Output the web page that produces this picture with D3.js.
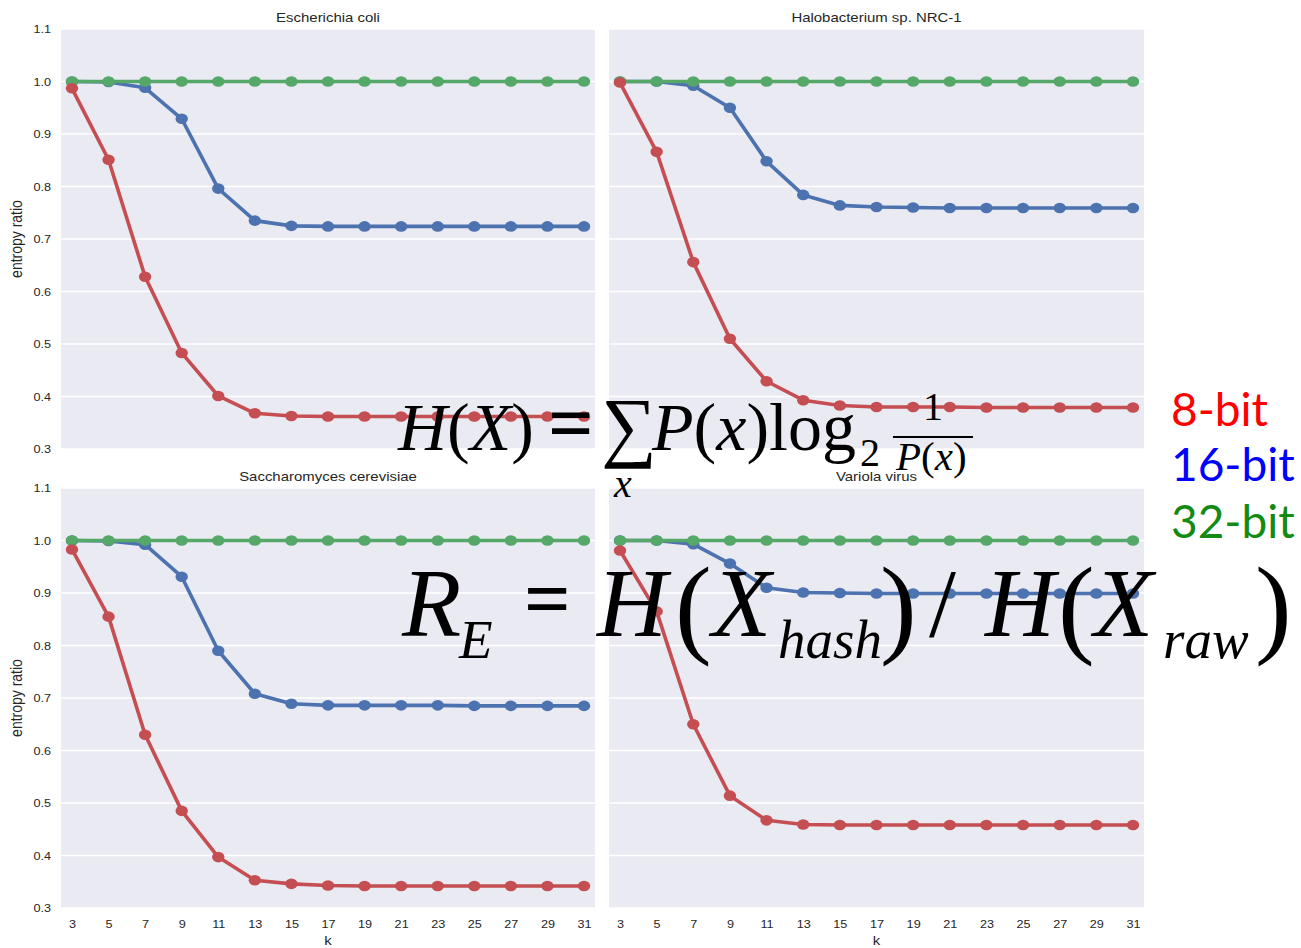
<!DOCTYPE html>
<html><head><meta charset="utf-8">
<script src="https://cdn.jsdelivr.net/npm/d3@7"></script>
<style>body{margin:0;background:#fff}</style>
</head><body>
<svg id="chart" width="1301" height="948"></svg>
<script>
// ---------- data ----------
const ks = [3,5,7,9,11,13,15,17,19,21,23,25,27,29,31];
const yTicks = [0.3,0.4,0.5,0.6,0.7,0.8,0.9,1.0,1.1];
const titles = ["Escherichia coli","Halobacterium sp. NRC-1","Saccharomyces cerevisiae","Variola virus"];
const seriesNames = ["16-bit","32-bit","8-bit"]; // drawing order
const legendNames = ["8-bit","16-bit","32-bit"];

const ecoli8  = [0.987,0.851,0.628,0.483,0.401,0.368,0.363,0.362,0.362,0.362,0.362,0.362,0.362,0.362,0.362];
const ecoli16 = [1.000,0.999,0.988,0.929,0.796,0.735,0.725,0.724,0.724,0.724,0.724,0.724,0.724,0.724,0.724];
const ecoli32 = [1,1,1,1,1,1,1,1,1,1,1,1,1,1,1];

const halo8  = [0.998,0.866,0.656,0.510,0.429,0.393,0.383,0.380,0.380,0.380,0.379,0.379,0.379,0.379,0.379];
const halo16 = [1.000,1.000,0.992,0.950,0.848,0.784,0.764,0.761,0.760,0.759,0.759,0.759,0.759,0.759,0.759];
const halo32 = [1,1,1,1,1,1,1,1,1,1,1,1,1,1,1];

const sacc8  = [0.983,0.855,0.630,0.485,0.397,0.353,0.346,0.343,0.342,0.342,0.342,0.342,0.342,0.342,0.342];
const sacc16 = [1.000,0.999,0.992,0.931,0.790,0.708,0.689,0.686,0.686,0.686,0.686,0.685,0.685,0.685,0.685];
const sacc32 = [1,1,1,1,1,1,1,1,1,1,1,1,1,1,1];

const vari8  = [0.981,0.865,0.650,0.514,0.467,0.459,0.458,0.458,0.458,0.458,0.458,0.458,0.458,0.458,0.458];
const vari16 = [1.000,1.000,0.993,0.956,0.910,0.901,0.900,0.899,0.899,0.899,0.899,0.899,0.899,0.899,0.899];
const vari32 = [1,1,1,1,1,1,1,1,1,1,1,1,1,1,1];

// ---------- styling / layout ----------
const lineColors = {"8-bit":"#C44E52","16-bit":"#4C72B0","32-bit":"#55A868"};
const legendColors = {"8-bit":"#FF0000","16-bit":"#0000FF","32-bit":"#138A13"};
const SX = 1.15; // horizontal stretch of the original picture

const panelSeries = [
  {"8-bit":ecoli8,"16-bit":ecoli16,"32-bit":ecoli32},
  {"8-bit":halo8,"16-bit":halo16,"32-bit":halo32},
  {"8-bit":sacc8,"16-bit":sacc16,"32-bit":sacc32},
  {"8-bit":vari8,"16-bit":vari16,"32-bit":vari32}
];
const cols = [[61,595],[609,1144]];
const rows = [[29,449],[488,908]];

const svg = d3.select("#chart");
const sans = "'Liberation Sans', Arial, sans-serif";

panelSeries.forEach((series, i) => {
  const c = i % 2, r = Math.floor(i / 2);
  const [x0, x1] = cols[c], [y0, y1] = rows[r];
  const x = d3.scalePoint().domain(ks).range([x0, x1]).padding(0.3);
  const y = d3.scaleLinear().domain([0.3, 1.1]).range([y1, y0]);
  const g = svg.append("g");

  g.append("rect").attr("x", x0).attr("y", y0).attr("width", x1 - x0).attr("height", y1 - y0).attr("fill", "#EAEAF2");
  g.selectAll("line.grid").data(yTicks).join("line")
    .attr("x1", x0).attr("x2", x1).attr("y1", d => y(d)).attr("y2", d => y(d))
    .attr("stroke", "#fff").attr("stroke-width", 1.3);

  if (c === 0) {
    const ay = g.append("g").attr("transform", `translate(${x0},0)`)
      .call(d3.axisLeft(y).tickValues(yTicks).tickFormat(d3.format(".1f")).tickSize(0).tickPadding(10));
    ay.select(".domain").remove();
    ay.selectAll("text").attr("font-family", sans).attr("font-size", 11).attr("fill", "#262626")
      .attr("transform", `translate(-10,0) scale(${SX},1) translate(10,0)`);
    g.append("text").attr("transform", `translate(22,${(y0 + y1) / 2}) scale(${SX},1) rotate(-90)`)
      .attr("text-anchor", "middle").attr("font-family", sans).attr("font-size", 14).attr("fill", "#262626")
      .text("entropy ratio");
  }
  if (r === 1) {
    const ax = g.append("g").attr("transform", `translate(0,${y1})`)
      .call(d3.axisBottom(x).tickSize(0).tickPadding(12));
    ax.select(".domain").remove();
    ax.selectAll("text").attr("font-family", sans).attr("font-size", 11).attr("fill", "#262626")
      .attr("transform", `scale(${SX},1)`);
    g.append("text").attr("transform", `translate(${(x0 + x1) / 2},945) scale(${SX},1)`)
      .attr("text-anchor", "middle").attr("font-family", sans).attr("font-size", 13).attr("fill", "#262626")
      .text("k");
  }
  g.append("text").attr("transform", `translate(${(x0 + x1) / 2},${y0 - 7}) scale(${SX},1)`)
    .attr("text-anchor", "middle").attr("font-family", sans).attr("font-size", 13).attr("fill", "#262626")
    .text(titles[i]);

  const line = d3.line().x((d, j) => x(ks[j])).y(d => y(d));
  seriesNames.forEach(name => {
    const vals = series[name];
    g.append("path").datum(vals).attr("d", line).attr("fill", "none")
      .attr("stroke", lineColors[name]).attr("stroke-width", 3.6).attr("stroke-linejoin", "round");
    g.selectAll(null).data(vals).join("ellipse")
      .attr("cx", (d, j) => x(ks[j])).attr("cy", d => y(d)).attr("rx", 6.2).attr("ry", 5.3)
      .attr("fill", lineColors[name]);
  });
});

// ---------- formula overlays ----------
const serif = "'Liberation Serif','Times New Roman',serif";
function piece(parts, px, py, size, opts = {}) {
  const t = svg.append("text").attr("x", px).attr("y", py).attr("font-family", serif)
    .attr("font-size", size).attr("fill", "#000");
  if (opts.weight) t.attr("font-weight", opts.weight);
  parts.forEach(([s, it]) => t.append("tspan").attr("font-style", it ? "italic" : "normal").text(s));
  return t;
}
// H(X) = sum_x P(x) log2 1/P(x)
piece([["H",1],["(",0],["X",1],[")",0]], 398, 450, 68);
piece([["=",0]], 548, 450, 80, {weight: "bold"});
piece([["\u2211",0]], 601, 452, 78);
piece([["x",1]], 614, 497, 40);
piece([["P",1],["(",0],["x",1],[")",0],["log",0]], 652, 450, 68);
piece([["2",0]], 860, 466, 40);
piece([["1",0]], 923, 420, 40);
svg.append("line").attr("x1", 893).attr("x2", 973).attr("y1", 437).attr("y2", 437).attr("stroke", "#000").attr("stroke-width", 2);
piece([["P",1],["(",0],["x",1],[")",0]], 896, 470, 41);

// R_E = H(X_hash)/H(X_raw)
piece([["R",1]], 402, 636, 97);
piece([["E",1]], 459, 658, 55);
piece([["=",0]], 524, 626, 82, {weight: "bold"});
piece([["H",1]], 597, 636, 97);
piece([["(",0]], 675, 643, 110);
piece([["X",1]], 712, 636, 97);
piece([["hash",1]], 778, 658, 55);
piece([[")",0]], 880, 643, 110);
piece([["/",0]], 929, 636, 97);
piece([["H",1]], 985, 636, 97);
piece([["(",0]], 1058, 643, 110);
piece([["X",1]], 1094, 636, 97);
piece([["raw",1]], 1163, 658, 55);
piece([[")",0]], 1255, 643, 110);

// legend labels
const legendY = [426, 481, 538];
legendNames.forEach((n, i) => {
  svg.append("text").attr("x", 1171).attr("y", legendY[i]).attr("font-family", "Lato, 'Open Sans', sans-serif")
    .attr("font-size", 46).attr("fill", legendColors[n]).text(n);
});
</script>
</body></html>
